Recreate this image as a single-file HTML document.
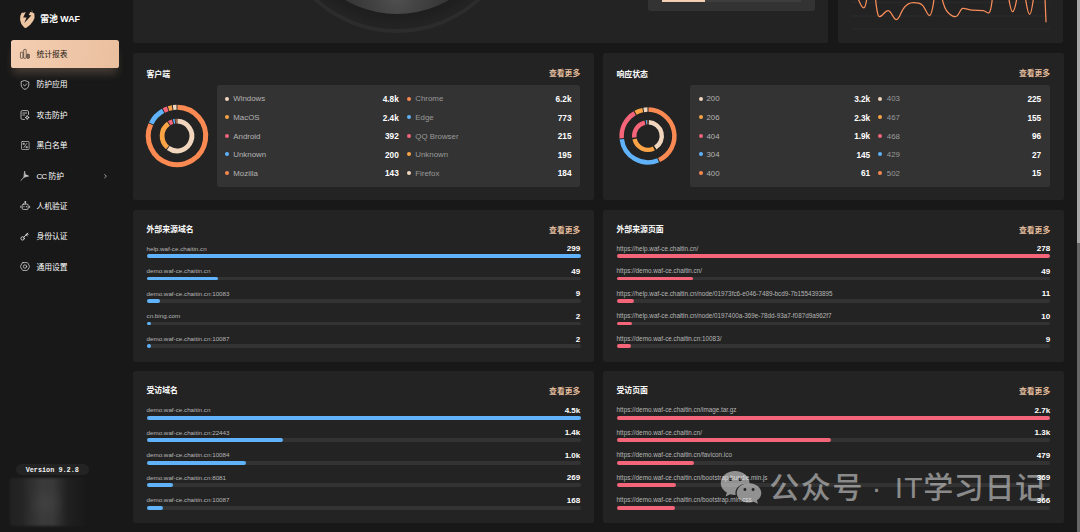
<!DOCTYPE html>
<html lang="zh-CN"><head><meta charset="utf-8"><title>雷池 WAF - 统计报表</title>
<style>

*{box-sizing:border-box;margin:0;padding:0}
html,body{width:1080px;height:532px;overflow:hidden;background:#181818}
body{position:relative;font-family:"Liberation Sans","Noto Sans CJK SC",sans-serif;color:#fff;-webkit-font-smoothing:antialiased}
.abs{position:absolute}
.card{position:absolute;background:#232323;border-radius:2.5px}
.panel{position:absolute;background:#333333;border-radius:2.5px}
.t{position:absolute;white-space:nowrap;line-height:12px;height:12px}
.title{font-size:7.9px;font-weight:700;color:#fff}
.more{font-size:7.8px;font-weight:700;color:#e4be9e;text-align:right}
.lg{font-size:7.875px;color:#b4b4b4}
.lg2{font-size:7.875px;color:#9a9a9a}
.val{font-size:8.25px;font-weight:700;color:#fff;text-align:right}
.dot{position:absolute;width:4px;height:4px;border-radius:50%}
.url{font-size:6.25px;color:#b6b6b6}
.urlr{font-size:6.34px}
.track{position:absolute;height:3.9px;border-radius:2px;background:#333333}
.bar{position:absolute;left:0;top:0;height:3.9px;border-radius:2px;min-width:4px}
.menu{font-size:7.8px;color:#fff}
svg{position:absolute;overflow:visible}

</style></head><body>
<!-- top strip (cut-off cards) -->
<div class="card" style="left:133px;top:-10px;width:695.4px;height:53px;overflow:hidden" id="topL">
<div class="abs" style="left:141.0px;top:-203.5px;width:246px;height:246px;border-radius:50%;background:#2c2c2c"></div>
<div class="abs" style="left:145.0px;top:-199.5px;width:238px;height:238px;border-radius:50%;background:#232323"></div>
<div class="abs" style="left:147.5px;top:-197.0px;width:233px;height:233px;border-radius:50%;background:radial-gradient(circle at 50% 50%,#1e1e1e 0,#1e1e1e 104px,#202020 110px,#232323 116.5px)"></div>
<div class="abs" style="left:160.0px;top:-184.5px;width:208px;height:208px;border-radius:50%;background:radial-gradient(circle at 50% 92%,#505050 0,#444 20px,#383838 45px,#2c2c2c 75px,#262626 100px)"></div>
<div class="panel" style="left:515.1px;top:0;width:166.7px;height:20.6px"></div>
<div class="abs" style="left:529.0px;top:8px;width:139px;height:4px;background:#3e3e3e"></div>
<div class="abs" style="left:529.0px;top:8px;width:43.2px;height:4px;background:#f3cfb3"></div>
</div>
<div class="card" style="left:837.8px;top:-10px;width:225.7px;height:53px;overflow:hidden" id="topR"></div>
<svg class="abs" style="left:0;top:0" width="1080" height="44" viewBox="0 0 1080 44">
<line x1="851.6" x2="1050" y1="2.7" y2="2.7" stroke="#2d2d2d" stroke-width="0.8"/>
<line x1="851.6" x2="1050" y1="16.0" y2="16.0" stroke="#2d2d2d" stroke-width="0.8"/>
<line x1="851.6" x2="1050" y1="28.9" y2="28.9" stroke="#2d2d2d" stroke-width="0.8"/>
<path d="M857.8,-2 C860,3 861.5,7.8 863.8,7.8 C865.5,7.8 866,3 866.9,-2 M875.4,-2 C876.5,8 877.5,16.7 879.5,16.7 C882.5,16.7 885,10.5 888.2,10.7 C891.5,11 893.5,19.8 896.4,19.6 C899.5,19.4 900.5,12.5 903.3,8.9 C906,5 909.5,2.7 913.3,2.7 C917,2.7 919.5,2.8 922.2,4.9 C925.5,7.5 927,15.8 929.6,15.6 C932,15.4 933,6 934.2,-2 M942,-2 C943.5,5 945,9.5 947.8,12.2 C950.5,15 952.5,17 955.6,16.7 C959,16.3 960,8.6 962.9,8.4 C966,8.2 968.5,10 972.2,10 C976,10 979.5,10.2 983.3,10.7 C985.5,11 987.5,13.6 988.9,12.9 C991,12 991.5,5 992.4,-2 M1008.7,-2 C1010,5 1010.8,11.6 1012.7,11.6 C1014.6,11.6 1015.6,5 1016.9,-2 M1025.4,-2 C1026.8,6 1027.8,14.4 1029.6,14.4 C1031.4,14.4 1032.3,6 1033.5,-2 M1045,-2 L1046,21.8" fill="none" stroke="#f88d59" stroke-width="1.25" stroke-linecap="round" stroke-linejoin="round"/>
</svg>
<!-- sidebar -->
<svg style="left:16px;top:6px" width="24" height="24" viewBox="0 0 532 532"><path d="M126,152 Q165,150 205,136 Q290,118 352,138 L350,70 L364,142 Q388,150 408,172 Q426,262 380,332 Q325,425 230,482 Q206,496 182,478 Q104,410 91,308 Q82,218 126,152 Z" fill="#edc5a2"/><path d="M342,84 L214,138 L158,256 L234,256 L184,378 L338,212 L282,200 Z" fill="#181818"/></svg>
<div class="t" style="left:40.2px;top:12.9px;font-size:8.85px;font-weight:700;letter-spacing:0">雷池 WAF</div>
<div class="abs" style="left:11.2px;top:40px;width:108.3px;height:28.1px;border-radius:2.6px;background:linear-gradient(100deg,#f4ceb2 0%,#efc7a8 50%,#eabf9e 100%);box-shadow:0 8px 9px -2px rgba(233,190,156,0.21)"></div>
<svg style="left:19.9px;top:49.1px" width="10" height="10" viewBox="0 0 20 20" fill="none" stroke="#1f1712" stroke-width="1.15"><rect x="0.9" y="6.4" width="5" height="12.2" rx="1.1"/><rect x="7.4" y="0.9" width="5" height="17.7" rx="1.1"/><rect x="13.9" y="10.4" width="4.8" height="8.2" rx="1.1" fill="#1f1712" fill-opacity="0.5"/></svg>
<div class="t menu" style="left:36.4px;top:48.9px;color:#1c1611">统计报表</div>
<svg style="left:19.9px;top:79.5px" width="10" height="10" viewBox="0 0 20 20" fill="none" stroke="#e2e2e2" stroke-width="1.5" stroke-linejoin="round" stroke-linecap="round"><path d="M10,1.2 L17.6,4 V9.8 C17.6,14.2 14.2,17.4 10,18.8 C5.8,17.4 2.4,14.2 2.4,9.8 V4 Z"/><path d="M6.8,9.6 L9.3,12 L13.4,7.6"/></svg>
<div class="t menu" style="left:36.4px;top:79.3px;color:#fff">防护应用</div>
<svg style="left:19.9px;top:109.9px" width="10" height="10" viewBox="0 0 20 20" fill="none" stroke="#e2e2e2" stroke-width="1.5" stroke-linejoin="round" stroke-linecap="round"><path d="M17,9 V3.6 C17,2.3 16,1.2 14.6,1.2 H4.4 C3,1.2 2,2.3 2,3.6 V16.4 C2,17.7 3,18.8 4.4,18.8 H9"/><path d="M5.6,6 H13.4 M5.6,10 H9.4"/><circle cx="14.4" cy="15" r="2.6"/><path d="M14.4,11.2 V12.2 M14.4,17.8 V18.8 M10.8,15 H11.8 M17,15 H18"/></svg>
<div class="t menu" style="left:36.4px;top:109.7px;color:#fff">攻击防护</div>
<svg style="left:20.6px;top:141.0px" width="8.6" height="9" viewBox="0 0 17.2 18" fill="none" stroke="#e2e2e2" stroke-width="1.25" stroke-linejoin="round" stroke-linecap="round"><rect x="1" y="1" width="15.2" height="16" rx="1.6"/><path d="M11.6,4.8 L5.6,13.2"/><rect x="4.4" y="4.4" width="2.4" height="2.4" fill="#e2e2e2" stroke-width="0.7"/><rect x="10.4" y="11.2" width="2.4" height="2.4" fill="#e2e2e2" stroke-width="0.7"/></svg>
<div class="t menu" style="left:36.4px;top:140.2px;color:#fff">黑白名单</div>
<svg style="left:19.9px;top:171.0px" width="10" height="10" viewBox="0 0 20 20" fill="#cdcdcd" stroke="#cdcdcd" stroke-width="1.2" stroke-linejoin="round" stroke-linecap="round"><path d="M9.4,1 L10.6,7.2 L17.4,10.2 L11,11.6 L8.2,12.6 Z" /><path d="M8.6,11.8 L5.4,15.4 L2,18.6" fill="none" stroke-width="1.7"/></svg>
<div class="t menu" style="left:36.4px;top:170.8px;color:#fff"><span style="letter-spacing:-0.45px">CC </span>防护</div>
<svg style="left:19.9px;top:201.1px" width="10.4" height="9.4" viewBox="0 0 22 20" fill="none" stroke="#e2e2e2" stroke-width="1.6" stroke-linejoin="round" stroke-linecap="round"><rect x="4.6" y="6.6" width="12.8" height="11.4" rx="2.6"/><path d="M11,1.6 V6.4 M1.6,11 V14 M20.4,11 V14"/><circle cx="11" cy="2.2" r="0.9" fill="#e2e2e2"/><path d="M8.4,11.4 V12.6 M13.6,11.4 V12.6" stroke-width="1.5"/></svg>
<div class="t menu" style="left:36.4px;top:200.9px;color:#fff">人机验证</div>
<svg style="left:19.9px;top:231.5px" width="9" height="9" viewBox="0 0 18 18" fill="none" stroke="#e2e2e2" stroke-width="1.7" stroke-linejoin="round" stroke-linecap="round"><circle cx="5.2" cy="12.8" r="3.4"/><path d="M7.6,10.4 L15.6,2.2 M12.2,5.6 L14.6,8 M14.4,3.4 L16.4,5.4" stroke-width="1.9"/></svg>
<div class="t menu" style="left:36.4px;top:231.3px;color:#fff">身份认证</div>
<svg style="left:19.9px;top:261.9px" width="10" height="9" viewBox="0 0 20 18" fill="none" stroke="#e2e2e2" stroke-width="1.4" stroke-linejoin="round" stroke-linecap="round"><path d="M6,1.2 H14 C14.7,1.2 15.2,1.5 15.6,2.1 L18.8,8 C19.1,8.6 19.1,9.4 18.8,10 L15.6,15.9 C15.2,16.5 14.7,16.8 14,16.8 H6 C5.3,16.8 4.8,16.5 4.4,15.9 L1.2,10 C0.9,9.4 0.9,8.6 1.2,8 L4.4,2.1 C4.8,1.5 5.3,1.2 6,1.2 Z"/><circle cx="10" cy="9" r="3.4"/></svg>
<div class="t menu" style="left:36.4px;top:261.7px;color:#fff">通用设置</div>
<svg style="left:104.1px;top:173.6px" width="3.2" height="4.4" viewBox="0 0 8 10.8" fill="none" stroke="#d8d8d8" stroke-width="1.7" stroke-linecap="round" stroke-linejoin="round"><path d="M1.6,1.4 L6,5.4 L1.6,9.4"/></svg>
<div class="abs" style="left:16.1px;top:464px;width:73px;height:11.1px;border-radius:6px;background:#232323"></div>
<div class="t" style="left:25.7px;top:463.5px;font-family:'Liberation Mono',monospace;font-weight:700;font-size:6.85px;letter-spacing:-0.02px;color:#f4f4f4">Version 9.2.8</div>
<div class="abs" style="left:9.8px;top:478px;width:78px;height:47.6px;background:linear-gradient(90deg,#212121 0%,#252525 16%,#313131 28%,#3a3a3a 40%,#393939 55%,#2d2d2d 64%,#202020 74%,#1c1c1c 88%,#181818 100%);filter:blur(1.2px)"></div>
<div class="abs" style="left:30px;top:486px;width:32px;height:34px;border-radius:45%;background:radial-gradient(ellipse at 50% 50%,rgba(70,70,70,0.55) 0,rgba(60,60,60,0.25) 55%,rgba(50,50,50,0) 100%)"></div>
<!-- 客户端 -->
<div class="card" style="left:133px;top:52.8px;width:461px;height:147.5px"></div>
<div class="t title" style="left:146.4px;top:68.8px">客户端</div>
<div class="t more" style="left:520px;top:68.1px;width:60.2px">查看更多</div>
<div class="panel" style="left:216.8px;top:85.3px;width:363.6px;height:101.3px"></div>
<svg style="left:136.9px;top:95.8px" width="80" height="80" viewBox="136.90 95.80 80 80">
<path d="M177.35,107.10 A28.70,28.70 0 1 1 150.69,124.10" fill="none" stroke="#fb8a52" stroke-width="5.00"/>
<path d="M151.07,123.28 A28.70,28.70 0 0 1 162.92,110.74" fill="none" stroke="#60b3fa" stroke-width="5.00"/>
<path d="M163.71,110.31 A28.70,28.70 0 0 1 167.59,108.65" fill="none" stroke="#f4657a" stroke-width="5.00"/>
<path d="M168.45,108.37 A28.70,28.70 0 0 1 172.09,107.51" fill="none" stroke="#fba445" stroke-width="5.00"/>
<path d="M172.98,107.37 A28.70,28.70 0 0 1 176.45,107.10" fill="none" stroke="#f1d6bd" stroke-width="5.00"/>
<path d="M177.35,120.91 A14.90,14.90 0 1 1 168.13,147.85" fill="none" stroke="#f1d6bd" stroke-width="4.80"/>
<path d="M167.42,147.30 A14.90,14.90 0 0 1 168.34,123.61" fill="none" stroke="#fba445" stroke-width="4.80"/>
<path d="M169.09,123.11 A14.90,14.90 0 0 1 172.47,121.57" fill="none" stroke="#f4657a" stroke-width="4.80"/>
<path d="M173.34,121.33 A14.90,14.90 0 0 1 174.77,121.05" fill="none" stroke="#60b3fa" stroke-width="4.80"/>
<path d="M175.59,120.96 A14.90,14.90 0 0 1 176.52,120.90" fill="none" stroke="#fb8a52" stroke-width="4.80"/>
</svg>
<div class="dot" style="left:225.2px;top:96.5px;background:#f1d6bd"></div>
<div class="t lg" style="left:233.3px;top:93.3px">Windows</div>
<div class="t val" style="left:358.8px;top:93.9px;width:40px">4.8k</div>
<div class="dot" style="left:407.2px;top:96.5px;background:#fb8a52"></div>
<div class="t lg2" style="left:415.3px;top:93.3px">Chrome</div>
<div class="t val" style="left:531.5px;top:93.9px;width:40px">6.2k</div>
<div class="dot" style="left:225.2px;top:115.2px;background:#fba445"></div>
<div class="t lg" style="left:233.3px;top:112.0px">MacOS</div>
<div class="t val" style="left:358.8px;top:112.6px;width:40px">2.4k</div>
<div class="dot" style="left:407.2px;top:115.2px;background:#60b3fa"></div>
<div class="t lg2" style="left:415.3px;top:112.0px">Edge</div>
<div class="t val" style="left:531.5px;top:112.6px;width:40px">773</div>
<div class="dot" style="left:225.2px;top:133.7px;background:#f4657a"></div>
<div class="t lg" style="left:233.3px;top:130.5px">Android</div>
<div class="t val" style="left:358.8px;top:131.1px;width:40px">392</div>
<div class="dot" style="left:407.2px;top:133.7px;background:#f4657a"></div>
<div class="t lg2" style="left:415.3px;top:130.5px">QQ Browser</div>
<div class="t val" style="left:531.5px;top:131.1px;width:40px">215</div>
<div class="dot" style="left:225.2px;top:152.3px;background:#60b3fa"></div>
<div class="t lg" style="left:233.3px;top:149.1px">Unknown</div>
<div class="t val" style="left:358.8px;top:149.7px;width:40px">200</div>
<div class="dot" style="left:407.2px;top:152.3px;background:#fba445"></div>
<div class="t lg2" style="left:415.3px;top:149.1px">Unknown</div>
<div class="t val" style="left:531.5px;top:149.7px;width:40px">195</div>
<div class="dot" style="left:225.2px;top:171.0px;background:#fb8a52"></div>
<div class="t lg" style="left:233.3px;top:167.8px">Mozilla</div>
<div class="t val" style="left:358.8px;top:168.4px;width:40px">143</div>
<div class="dot" style="left:407.2px;top:171.0px;background:#f1d6bd"></div>
<div class="t lg2" style="left:415.3px;top:167.8px">Firefox</div>
<div class="t val" style="left:531.5px;top:168.4px;width:40px">184</div>
<!-- 响应状态 -->
<div class="card" style="left:603.2px;top:52.8px;width:460.4px;height:147.5px"></div>
<div class="t title" style="left:616.4px;top:68.8px">响应状态</div>
<div class="t more" style="left:990px;top:68.1px;width:60.1px">查看更多</div>
<div class="panel" style="left:690.2px;top:85.3px;width:359.8px;height:101.3px"></div>
<svg style="left:607.6px;top:95.5px" width="80" height="80" viewBox="607.60 95.50 80 80">
<path d="M648.10,109.10 A26.40,26.40 0 0 1 658.64,159.48" fill="none" stroke="#fb8a52" stroke-width="4.50"/>
<path d="M657.72,159.88 A26.40,26.40 0 0 1 621.40,138.71" fill="none" stroke="#60b3fa" stroke-width="4.50"/>
<path d="M621.29,137.72 A26.40,26.40 0 0 1 634.29,112.70" fill="none" stroke="#f4657a" stroke-width="4.50"/>
<path d="M635.16,112.21 A26.40,26.40 0 0 1 642.33,109.63" fill="none" stroke="#fba445" stroke-width="4.50"/>
<path d="M643.32,109.45 A26.40,26.40 0 0 1 647.10,109.10" fill="none" stroke="#f1d6bd" stroke-width="4.50"/>
<path d="M648.40,121.72 A13.80,13.80 0 0 1 654.88,147.22" fill="none" stroke="#f1d6bd" stroke-width="4.40"/>
<path d="M653.48,147.98 A13.80,13.80 0 0 1 634.15,138.60" fill="none" stroke="#fba445" stroke-width="4.40"/>
<path d="M633.88,137.03 A13.80,13.80 0 0 1 644.48,122.06" fill="none" stroke="#f4657a" stroke-width="4.40"/>
<path d="M645.63,121.84 A13.80,13.80 0 0 1 646.53,121.74" fill="none" stroke="#60b3fa" stroke-width="4.40"/>
<path d="M647.06,121.71 A13.80,13.80 0 0 1 647.44,121.70" fill="none" stroke="#fb8a52" stroke-width="4.40"/>
</svg>
<div class="dot" style="left:698.7px;top:96.5px;background:#f1d6bd"></div>
<div class="t lg" style="left:706.5px;top:93.3px">200</div>
<div class="t val" style="left:830.2px;top:93.9px;width:40px">3.2k</div>
<div class="dot" style="left:878.4px;top:96.5px;background:#f1d6bd"></div>
<div class="t lg2" style="left:886.8px;top:93.3px">403</div>
<div class="t val" style="left:1001.2px;top:93.9px;width:40px">225</div>
<div class="dot" style="left:698.7px;top:115.2px;background:#fba445"></div>
<div class="t lg" style="left:706.5px;top:112.0px">206</div>
<div class="t val" style="left:830.2px;top:112.6px;width:40px">2.3k</div>
<div class="dot" style="left:878.4px;top:115.2px;background:#fba445"></div>
<div class="t lg2" style="left:886.8px;top:112.0px">467</div>
<div class="t val" style="left:1001.2px;top:112.6px;width:40px">155</div>
<div class="dot" style="left:698.7px;top:133.7px;background:#f4657a"></div>
<div class="t lg" style="left:706.5px;top:130.5px">404</div>
<div class="t val" style="left:830.2px;top:131.1px;width:40px">1.9k</div>
<div class="dot" style="left:878.4px;top:133.7px;background:#f4657a"></div>
<div class="t lg2" style="left:886.8px;top:130.5px">468</div>
<div class="t val" style="left:1001.2px;top:131.1px;width:40px">96</div>
<div class="dot" style="left:698.7px;top:152.3px;background:#60b3fa"></div>
<div class="t lg" style="left:706.5px;top:149.1px">304</div>
<div class="t val" style="left:830.2px;top:149.7px;width:40px">145</div>
<div class="dot" style="left:878.4px;top:152.3px;background:#60b3fa"></div>
<div class="t lg2" style="left:886.8px;top:149.1px">429</div>
<div class="t val" style="left:1001.2px;top:149.7px;width:40px">27</div>
<div class="dot" style="left:698.7px;top:171.0px;background:#fb8a52"></div>
<div class="t lg" style="left:706.5px;top:167.8px">400</div>
<div class="t val" style="left:830.2px;top:168.4px;width:40px">61</div>
<div class="dot" style="left:878.4px;top:171.0px;background:#fb8a52"></div>
<div class="t lg2" style="left:886.8px;top:167.8px">502</div>
<div class="t val" style="left:1001.2px;top:168.4px;width:40px">15</div>
<!-- 外部来源域名 -->
<div class="card" style="left:133.0px;top:209.7px;width:461.0px;height:152.3px"></div>
<div class="t title" style="left:146.4px;top:223.9px">外部来源域名</div>
<div class="t more" style="left:520.3px;top:224.8px;width:60px">查看更多</div>
<div class="t url" style="left:146.5px;top:242.7px">help.waf-ce.chaitin.cn</div>
<div class="t val" style="left:530.3px;top:243.2px;width:50px;font-size:8.05px">299</div>
<div class="track" style="left:146.5px;top:253.9px;width:434.0px"><div class="bar" style="width:434.0px;background:#60b3fa"></div></div>
<div class="t url" style="left:146.5px;top:265.3px">demo.waf-ce.chaitin.cn</div>
<div class="t val" style="left:530.3px;top:265.8px;width:50px;font-size:8.05px">49</div>
<div class="track" style="left:146.5px;top:276.5px;width:434.0px"><div class="bar" style="width:71.1px;background:#60b3fa"></div></div>
<div class="t url" style="left:146.5px;top:287.8px">demo.waf-ce.chaitin.cn:10083</div>
<div class="t val" style="left:530.3px;top:288.3px;width:50px;font-size:8.05px">9</div>
<div class="track" style="left:146.5px;top:299.0px;width:434.0px"><div class="bar" style="width:13.1px;background:#60b3fa"></div></div>
<div class="t url" style="left:146.5px;top:310.4px">cn.bing.com</div>
<div class="t val" style="left:530.3px;top:310.9px;width:50px;font-size:8.05px">2</div>
<div class="track" style="left:146.5px;top:321.6px;width:434.0px"><div class="bar" style="width:3.9px;background:#60b3fa"></div></div>
<div class="t url" style="left:146.5px;top:333.0px">demo.waf-ce.chaitin.cn:10087</div>
<div class="t val" style="left:530.3px;top:333.5px;width:50px;font-size:8.05px">2</div>
<div class="track" style="left:146.5px;top:344.2px;width:434.0px"><div class="bar" style="width:3.9px;background:#60b3fa"></div></div>
<!-- 外部来源页面 -->
<div class="card" style="left:603.2px;top:209.7px;width:460.4px;height:152.3px"></div>
<div class="t title" style="left:616.4px;top:223.9px">外部来源页面</div>
<div class="t more" style="left:990.2px;top:224.8px;width:60px">查看更多</div>
<div class="t url urlr" style="left:616.6px;top:242.7px">https://help.waf-ce.chaitin.cn/</div>
<div class="t val" style="left:1000.2px;top:243.2px;width:50px;font-size:8.05px">278</div>
<div class="track" style="left:616.6px;top:253.9px;width:433.8px"><div class="bar" style="width:433.8px;background:#f4657a"></div></div>
<div class="t url urlr" style="left:616.6px;top:265.3px">https://demo.waf-ce.chaitin.cn/</div>
<div class="t val" style="left:1000.2px;top:265.8px;width:50px;font-size:8.05px">49</div>
<div class="track" style="left:616.6px;top:276.5px;width:433.8px"><div class="bar" style="width:76.5px;background:#f4657a"></div></div>
<div class="t url urlr" style="left:616.6px;top:287.8px">https://help.waf-ce.chaitin.cn/node/01973fc6-e046-7489-bcd9-7b1554393895</div>
<div class="t val" style="left:1000.2px;top:288.3px;width:50px;font-size:8.05px">11</div>
<div class="track" style="left:616.6px;top:299.0px;width:433.8px"><div class="bar" style="width:17.2px;background:#f4657a"></div></div>
<div class="t url urlr" style="left:616.6px;top:310.4px">https://help.waf-ce.chaitin.cn/node/0197400a-369e-78dd-93a7-f087d9a962f7</div>
<div class="t val" style="left:1000.2px;top:310.9px;width:50px;font-size:8.05px">10</div>
<div class="track" style="left:616.6px;top:321.6px;width:433.8px"><div class="bar" style="width:15.6px;background:#f4657a"></div></div>
<div class="t url urlr" style="left:616.6px;top:333.0px">https://demo.waf-ce.chaitin.cn:10083/</div>
<div class="t val" style="left:1000.2px;top:333.5px;width:50px;font-size:8.05px">9</div>
<div class="track" style="left:616.6px;top:344.2px;width:433.8px"><div class="bar" style="width:14.0px;background:#f4657a"></div></div>
<!-- 受访域名 -->
<div class="card" style="left:133.0px;top:370.9px;width:461.0px;height:152.2px"></div>
<div class="t title" style="left:146.4px;top:384.8px">受访域名</div>
<div class="t more" style="left:520.3px;top:385.6px;width:60px">查看更多</div>
<div class="t url" style="left:146.5px;top:404.0px">demo.waf-ce.chaitin.cn</div>
<div class="t val" style="left:530.3px;top:404.5px;width:50px;font-size:8.05px">4.5k</div>
<div class="track" style="left:146.5px;top:415.7px;width:434.0px"><div class="bar" style="width:434.0px;background:#60b3fa"></div></div>
<div class="t url" style="left:146.5px;top:426.6px">demo.waf-ce.chaitin.cn:22443</div>
<div class="t val" style="left:530.3px;top:427.1px;width:50px;font-size:8.05px">1.4k</div>
<div class="track" style="left:146.5px;top:438.3px;width:434.0px"><div class="bar" style="width:136.7px;background:#60b3fa"></div></div>
<div class="t url" style="left:146.5px;top:449.1px">demo.waf-ce.chaitin.cn:10084</div>
<div class="t val" style="left:530.3px;top:449.6px;width:50px;font-size:8.05px">1.0k</div>
<div class="track" style="left:146.5px;top:460.8px;width:434.0px"><div class="bar" style="width:99.8px;background:#60b3fa"></div></div>
<div class="t url" style="left:146.5px;top:471.7px">demo.waf-ce.chaitin.cn:8081</div>
<div class="t val" style="left:530.3px;top:472.2px;width:50px;font-size:8.05px">269</div>
<div class="track" style="left:146.5px;top:483.4px;width:434.0px"><div class="bar" style="width:26.1px;background:#60b3fa"></div></div>
<div class="t url" style="left:146.5px;top:494.3px">demo.waf-ce.chaitin.cn:10087</div>
<div class="t val" style="left:530.3px;top:494.8px;width:50px;font-size:8.05px">168</div>
<div class="track" style="left:146.5px;top:506.0px;width:434.0px"><div class="bar" style="width:16.6px;background:#60b3fa"></div></div>
<!-- 受访页面 -->
<div class="card" style="left:603.2px;top:370.9px;width:460.4px;height:152.2px"></div>
<div class="t title" style="left:616.4px;top:384.8px">受访页面</div>
<div class="t more" style="left:990.2px;top:385.6px;width:60px">查看更多</div>
<div class="t url urlr" style="left:616.6px;top:404.0px">https://demo.waf-ce.chaitin.cn/image.tar.gz</div>
<div class="t val" style="left:1000.2px;top:404.5px;width:50px;font-size:8.05px">2.7k</div>
<div class="track" style="left:616.6px;top:415.7px;width:433.8px"><div class="bar" style="width:433.8px;background:#f4657a"></div></div>
<div class="t url urlr" style="left:616.6px;top:426.6px">https://demo.waf-ce.chaitin.cn/</div>
<div class="t val" style="left:1000.2px;top:427.1px;width:50px;font-size:8.05px">1.3k</div>
<div class="track" style="left:616.6px;top:438.3px;width:433.8px"><div class="bar" style="width:214.1px;background:#f4657a"></div></div>
<div class="t url urlr" style="left:616.6px;top:449.1px">https://demo.waf-ce.chaitin.cn/favicon.ico</div>
<div class="t val" style="left:1000.2px;top:449.6px;width:50px;font-size:8.05px">479</div>
<div class="track" style="left:616.6px;top:460.8px;width:433.8px"><div class="bar" style="width:77.2px;background:#f4657a"></div></div>
<div class="t url urlr" style="left:616.6px;top:471.7px">https://demo.waf-ce.chaitin.cn/bootstrap.bundle.min.js</div>
<div class="t val" style="left:1000.2px;top:472.2px;width:50px;font-size:8.05px">369</div>
<div class="track" style="left:616.6px;top:483.4px;width:433.8px"><div class="bar" style="width:59.3px;background:#f4657a"></div></div>
<div class="t url urlr" style="left:616.6px;top:494.3px">https://demo.waf-ce.chaitin.cn/bootstrap.min.css</div>
<div class="t val" style="left:1000.2px;top:494.8px;width:50px;font-size:8.05px">366</div>
<div class="track" style="left:616.6px;top:506.0px;width:433.8px"><div class="bar" style="width:58.8px;background:#f4657a"></div></div>
<!-- watermark -->
<svg style="left:715px;top:465px" width="52" height="44" viewBox="715 465 52 44"><g fill="rgba(255,255,255,0.5)"><path fill-rule="evenodd" d="M735,471 C743,471 749.5,476.3 749.5,483 C749.5,483.2 749.5,483.4 749.5,483.6 C748.9,483.5 748.3,483.5 747.6,483.5 C740.6,483.5 735.4,487.6 735.4,492.8 C735.4,493.5 735.5,494.2 735.7,494.9 C735.5,494.9 735.2,494.9 735,494.9 C733.3,494.9 731.7,494.7 730.2,494.2 L725.6,496.6 L726.9,492.6 C723.1,490.4 720.8,486.9 720.8,483 C720.8,476.3 727,471 735,471 Z M730.5,477.7 a1.7,1.7 0 1 0 0.01,0 Z M740.2,477.7 a1.7,1.7 0 1 0 0.01,0 Z"/><path fill-rule="evenodd" d="M749,483.2 C755.8,483.2 761.3,487.5 761.3,492.9 C761.3,495.9 759.6,498.5 756.9,500.3 L757.9,503.7 L753.9,501.7 C752.4,502.2 750.7,502.5 749,502.5 C742.2,502.5 736.7,498.2 736.7,492.9 C736.7,487.5 742.2,483.2 749,483.2 Z M744.9,488 a1.5,1.5 0 1 0 0.01,0 Z M753.1,488 a1.5,1.5 0 1 0 0.01,0 Z"/></g></svg>
<div class="abs" style="left:769.3px;top:466.3px;height:44px;line-height:44px;white-space:nowrap;font-size:30px;font-weight:500;letter-spacing:1.55px;color:rgba(255,255,255,0.47)">公众号<span style="letter-spacing:0;padding:0 13.2px 0 7.6px">·</span><span style="letter-spacing:1.2px;font-weight:400">IT</span><span style="letter-spacing:0.6px;margin-left:-0.6px">学习日记</span></div>
<div class="abs" style="left:1076.8px;top:0;width:3.2px;height:532px;background:#666666"></div>
<div class="abs" style="left:1076.8px;top:0;width:3.2px;height:243px;background:#a9a9a9"></div>
</body></html>
